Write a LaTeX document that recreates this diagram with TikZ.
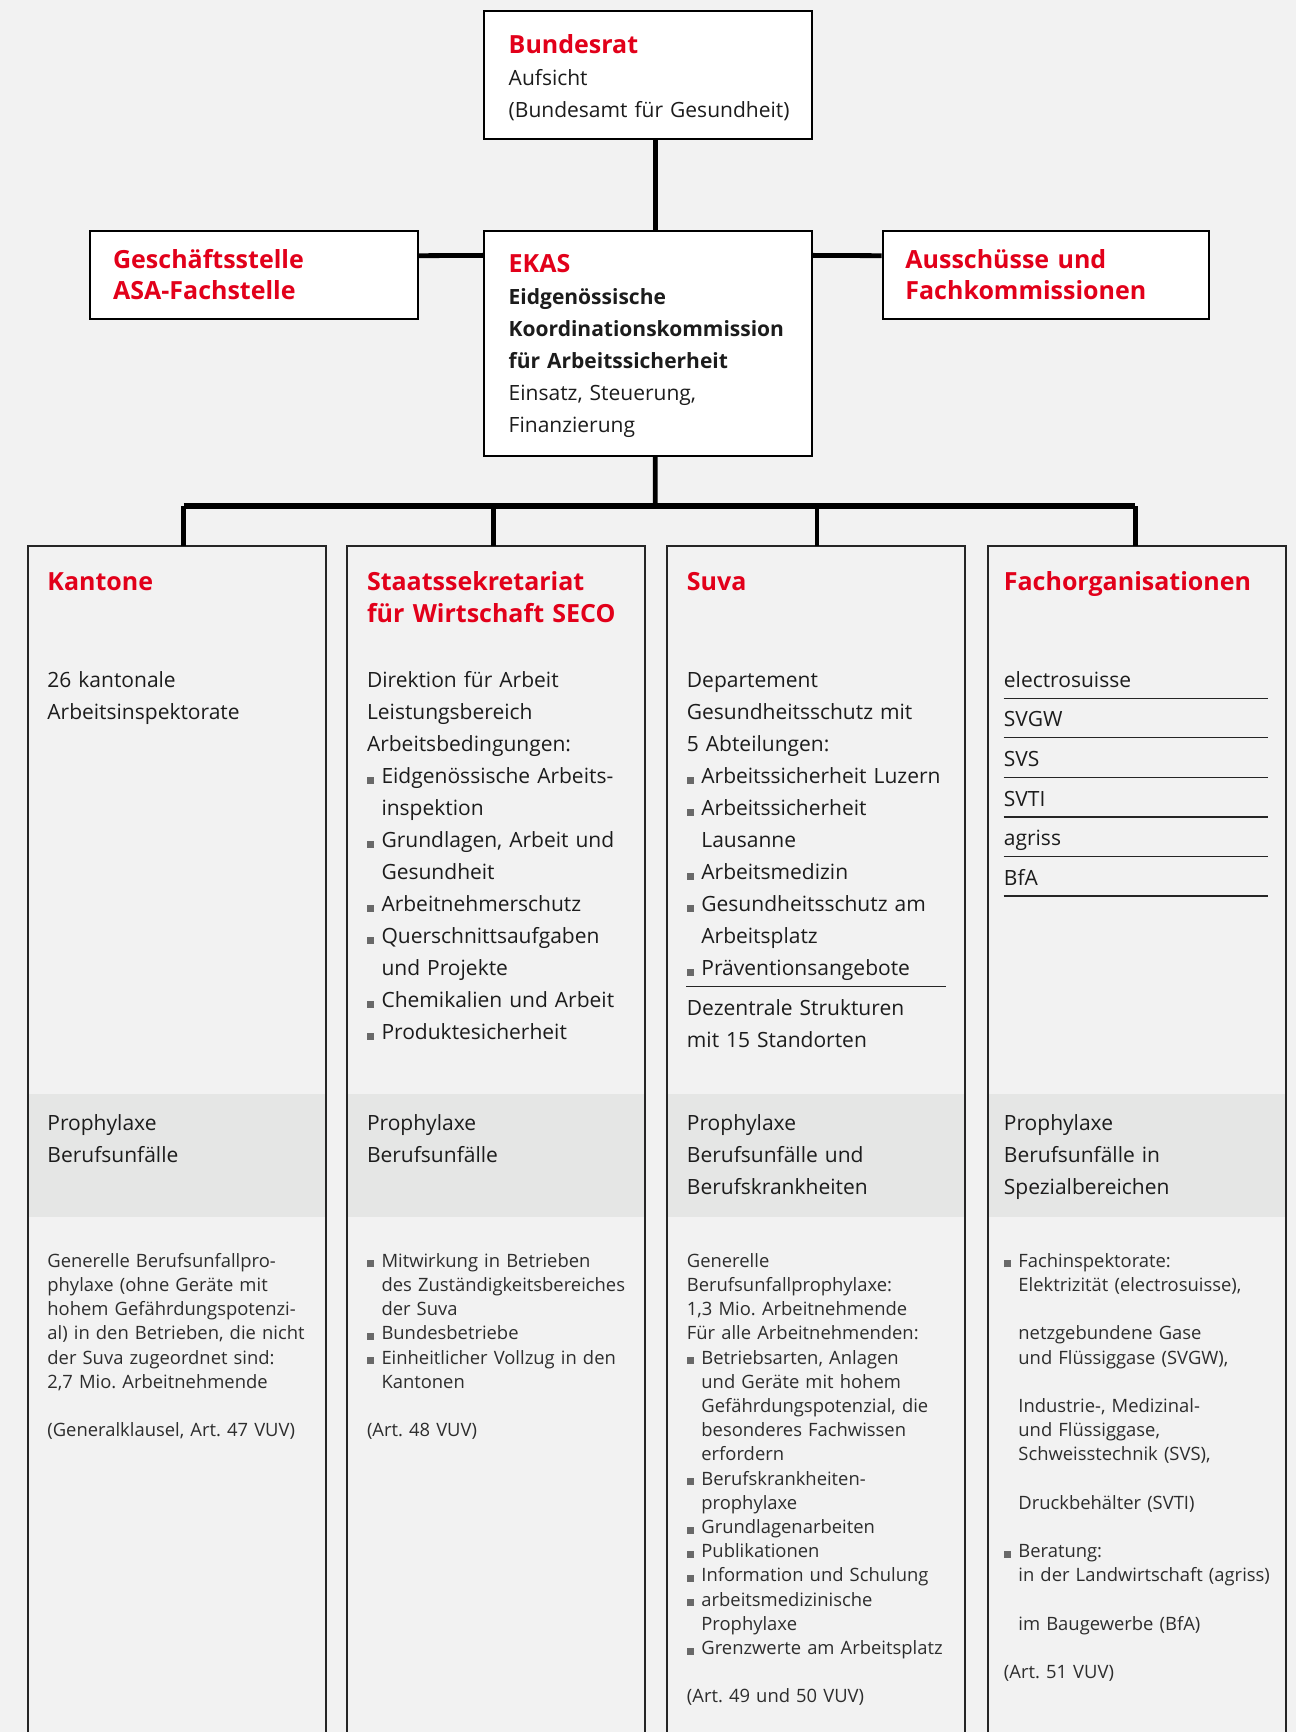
\documentclass[tikz,border=0pt]{standalone}
\usepackage{fontspec}
\setmainfont{Open Sans}
\usepackage{tikz}
\frenchspacing

\definecolor{ekasred}{RGB}{226,0,26}
\definecolor{pagebg}{RGB}{242,242,242}
\definecolor{bandgray}{RGB}{229,230,229}
\definecolor{bulgray}{RGB}{105,105,105}
\definecolor{txtblack}{RGB}{28,28,28}
\definecolor{txtgray}{RGB}{45,45,45}

\newcommand{\sqbul}{\makebox[7.25pt][l]{\textcolor{bulgray}{\rule{3.5pt}{3.5pt}}}}
\newcommand{\sqind}{\hspace*{7.25pt}}

\begin{document}
\begin{tikzpicture}[
		x=0.5pt, y=-0.5pt,
		topbox/.style={
			draw=black,
			line width=1pt,
			fill=white,
			inner sep=0pt,
			minimum width=163.85pt
		},
		column/.style={
			inner sep=0pt,
			minimum width=148.6pt,
			minimum height=593.15pt,
			anchor=north west
		},
		colline/.style={draw=black!85, line width=1pt},
		conn/.style={line width=2.4pt},
		busline/.style={line width=3pt},
		rule/.style={line width=0.55pt, black!85},
		boxtitle/.style={
			anchor=base west,
			inner sep=0pt,
			text width=150pt,
			align=left,
			text=ekasred,
			font=\fontsize{12.5}{15.8}\selectfont\bfseries
		},
		boxtext/.style={
			anchor=base west,
			inner sep=0pt,
			text width=150pt,
			align=left,
			text=txtblack,
			font=\fontsize{10.5}{16}\selectfont
		},
		coltitle/.style={boxtitle, text width=140pt},
		coltext/.style={boxtext, text width=140pt},
		smalltext/.style={
			anchor=base west,
			inner sep=0pt,
			text width=140pt,
			align=left,
			text=txtgray,
			font=\fontsize{9.2}{12.1}\selectfont
		},
		orgitem/.style={
			anchor=base west,
			inner sep=0pt,
			text=txtblack,
			font=\fontsize{10.5}{16}\selectfont
		}
		]
		
		\useasboundingbox (0,0) rectangle (1296,1732);
		\fill[pagebg] (0,0) rectangle (1296,1732);
		
		% upper boxes
		\node[topbox, minimum height=64.15pt] (bund) at (648.15,74.85) {};
		\node[boxtitle] (bundT) at (508.3,54) {Bundesrat};
		\node[boxtext] (bundB) at (508.3,86) {Aufsicht\\(Bundesamt für Gesundheit)};
		
		\node[topbox, minimum height=112.65pt] (ekas) at (648.15,343.35) {};
		\node[boxtitle] (ekasT) at (508.3,272.7) {EKAS};
		\node[boxtext] (ekasB) at (508.3,305) {\textbf{Eidgenössische}\\\textbf{Koordinationskommission}\\\textbf{für Arbeitssicherheit}\\Einsatz, Steuerung,\\Finanzierung};
		
		\node[topbox, minimum height=44pt] (gs) at (254.15,275) {};
		\node[boxtitle] (gsT) at (112.7,268.3) {Geschäftsstelle\\ASA-Fachstelle};
		
		\node[topbox, minimum height=44pt, minimum width=163.2pt] (aus) at (1045.8,275) {};
		\node[boxtitle] (ausT) at (905,268.3) {Ausschüsse und\\Fachkommissionen};
		
		\draw[conn] ([xshift=3.5pt]bund.south) -- ([xshift=3.5pt]ekas.north);
		\draw[conn] ([yshift=-12.85pt]gs.north east) -- ([yshift=-12.85pt]ekas.north west);
		\draw[conn] ([yshift=-12.85pt]ekas.north east) -- ([yshift=-12.85pt]aus.north west);
		
		% columns
		\node[column] (kant) at (27.5,545.7) {};
		\node[column] (seco) at (347.2,545.7) {};
		\node[column] (suva) at (667.2,545.7) {};
		\node[column] (fach) at (987.7,545.7) {};
		
		\fill[bandgray] (kant.west |- 0,1094) rectangle (kant.east |- 0,1216.7);
		\fill[bandgray] (seco.west |- 0,1094) rectangle (seco.east |- 0,1216.7);
		\fill[bandgray] (suva.west |- 0,1094) rectangle (suva.east |- 0,1216.7);
		\fill[bandgray] (fach.west |- 0,1094) rectangle (fach.east |- 0,1216.7);
		
		\draw[colline] (kant.south west) |- (kant.north east) -- (kant.south east);
		\draw[colline] (seco.south west) |- (seco.north east) -- (seco.south east);
		\draw[colline] (suva.south west) |- (suva.north east) -- (suva.south east);
		\draw[colline] (fach.south west) |- (fach.north east) -- (fach.south east);
		
		% bus
		\coordinate (bus) at (655.2,506.3);
		\draw[conn] ([xshift=3.5pt]ekas.south) -- (bus);
		\draw[busline] ([xshift=3.5pt]kant.north |- bus) -- ([xshift=-0.8pt]fach.north |- bus);
		\draw[conn] ([xshift=3.5pt]kant.north |- bus) -- ([xshift=3.5pt]kant.north);
		\draw[conn] ([xshift=-1.35pt]seco.north |- bus) -- ([xshift=-1.35pt]seco.north);
		\draw[conn] ([xshift=0.4pt]suva.north |- bus) -- ([xshift=0.4pt]suva.north);
		\draw[conn] ([xshift=-0.8pt]fach.north |- bus) -- ([xshift=-0.8pt]fach.north);
		
		% column heads
		\node[coltitle] (kantT) at (47,590.7) {Kantone};
		\node[coltitle] (secoT) at (366.6,590.7) {Staatssekretariat\\für Wirtschaft SECO};
		\node[coltitle] (suvaT) at (686.5,590.7) {Suva};
		\node[coltitle] (fachT) at (1003.5,590.7) {Fachorganisationen};
		
		\node[coltext] (kantB) at (47,687.5) {26 kantonale\\Arbeitsinspektorate};
		\node[coltext] (secoB) at (366.6,687.5) {Direktion für Arbeit\\Leistungsbereich\\Arbeitsbedingungen:\\\sqbul Eidgenössische Arbeits-\\\sqind inspektion\\\sqbul Grundlagen, Arbeit und\\\sqind Gesundheit\\\sqbul Arbeitnehmerschutz\\\sqbul Querschnittsaufgaben\\\sqind und Projekte\\\sqbul Chemikalien und Arbeit\\\sqbul Produktesicherheit};
		\node[coltext] (suvaB) at (686.5,687.5) {Departement\\Gesundheitsschutz mit\\5 Abteilungen:\\\sqbul Arbeitssicherheit Luzern\\\sqbul Arbeitssicherheit\\\sqind Lausanne\\\sqbul Arbeitsmedizin\\\sqbul Gesundheitsschutz am\\\sqind Arbeitsplatz\\\sqbul Präventionsangebote};
		\draw[rule] (686,986.4) -- (946,986.4);
		\node[coltext] (suvaD) at (686.5,1015) {Dezentrale Strukturen\\mit 15 Standorten};
		
		\node[orgitem] (esuisse) at (1003.5,687.4) {electrosuisse};
		\draw[rule] (esuisse.base west) ++(0,11) -- ++(264,0);
		\node[orgitem] (svgw) at (1003.5,726.9) {SVGW};
		\draw[rule] (svgw.base west) ++(0,11) -- ++(264,0);
		\node[orgitem] (svs) at (1003.5,766.5) {SVS};
		\draw[rule] (svs.base west) ++(0,11) -- ++(264,0);
		\node[orgitem] (svti) at (1003.5,806) {SVTI};
		\draw[rule] (svti.base west) ++(0,11) -- ++(264,0);
		\node[orgitem] (agriss) at (1003.5,845.6) {agriss};
		\draw[rule] (agriss.base west) ++(0,11) -- ++(264,0);
		\node[orgitem] (bfa) at (1003.5,885) {BfA};
		\draw[rule] (bfa.base west) ++(0,11) -- ++(264,0);
		
		% grey band
		\node[coltext] (kantP) at (47,1130.7) {Prophylaxe\\Berufsunfälle};
		\node[coltext] (secoP) at (366.6,1130.7) {Prophylaxe\\Berufsunfälle};
		\node[coltext] (suvaP) at (686.5,1130.7) {Prophylaxe\\Berufsunfälle und\\Berufskrankheiten};
		\node[coltext] (fachP) at (1003.5,1130.7) {Prophylaxe\\Berufsunfälle in\\Spezialbereichen};
		
		% lower texts
		\node[smalltext] (kantL) at (47,1267.3) {Generelle Berufsunfallpro-\\phylaxe (ohne Geräte mit\\hohem Gefährdungspotenzi-\\al) in den Betrieben, die nicht\\der Suva zugeordnet sind:\\2,7 Mio. Arbeitnehmende\\[12.1pt](Generalklausel, Art. 47 VUV)};
		\node[smalltext] (secoL) at (366.6,1267.3) {\sqbul Mitwirkung in Betrieben\\\sqind des Zuständigkeitsbereiches\\\sqind der Suva\\\sqbul Bundesbetriebe\\\sqbul Einheitlicher Vollzug in den\\\sqind Kantonen\\[12.1pt](Art. 48 VUV)};
		\node[smalltext] (suvaL) at (686.5,1267.3) {Generelle\\Berufsunfallprophylaxe:\\1,3 Mio. Arbeitnehmende\\Für alle Arbeitnehmenden:\\\sqbul Betriebsarten, Anlagen\\\sqind und Geräte mit hohem\\\sqind Gefährdungspotenzial, die\\\sqind besonderes Fachwissen\\\sqind erfordern\\\sqbul Berufskrankheiten-\\\sqind prophylaxe\\\sqbul Grundlagenarbeiten\\\sqbul Publikationen\\\sqbul Information und Schulung\\\sqbul arbeitsmedizinische\\\sqind Prophylaxe\\\sqbul Grenzwerte am Arbeitsplatz\\[12.1pt](Art. 49 und 50 VUV)};
		\node[smalltext] (fachL) at (1003.5,1267.3) {\sqbul Fachinspektorate:\\\sqind Elektrizität (electrosuisse),\\[12.1pt]\sqind netzgebundene Gase\\\sqind und Flüssiggase (SVGW),\\[12.1pt]\sqind Industrie-, Medizinal-\\\sqind und Flüssiggase,\\\sqind Schweisstechnik (SVS),\\[12.1pt]\sqind Druckbehälter (SVTI)\\[12.1pt]\sqbul Beratung:\\\sqind in der Landwirtschaft (agriss)\\[12.1pt]\sqind im Baugewerbe (BfA)\\[12.1pt](Art. 51 VUV)};
		
		\end{tikzpicture}
\end{document}
